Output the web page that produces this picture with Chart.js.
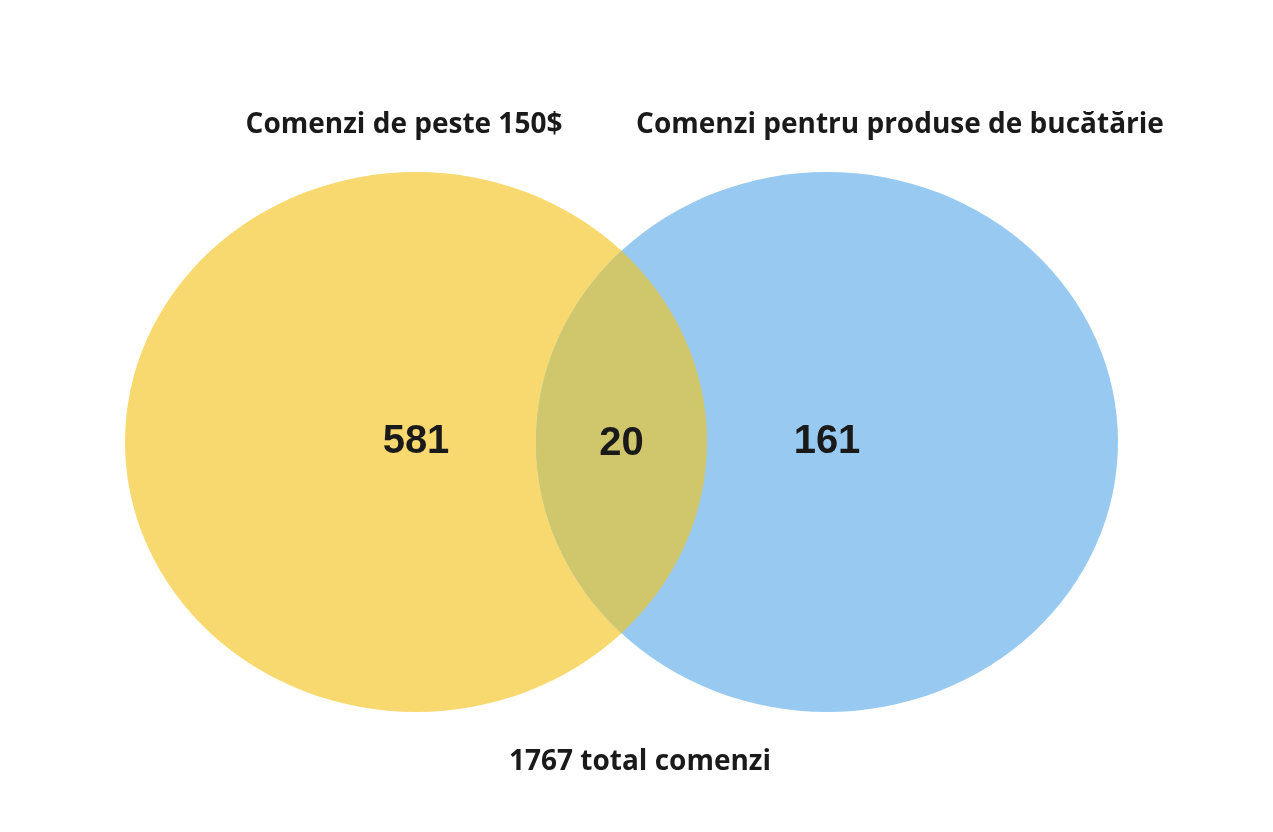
<!DOCTYPE html>
<html><head><meta charset="utf-8">
<script src="https://cdn.jsdelivr.net/npm/chart.js@4"></script>
<style>html,body{margin:0;padding:0;background:#fff;}</style>
</head><body>
<canvas id="c" width="1273" height="832"></canvas>
<script>
const categories = ["Comenzi de peste 150$", "Comenzi pentru produse de bucătărie"];
const onlyCounts = [581, 161];
const overlapCount = 20;
const totalLabel = "1767 total comenzi";

// layout (in scale units = pixels)
const setCenters = [{x:416,y:442},{x:827,y:442}];
const radii = {rx:291, ry:270};
const colors = ["#F7D96F", "#98CAF1"];
const overlapColor = "#D0C76C";

const venn = {
  id:'venn',
  afterDatasetsDraw(chart){
    const ctx = chart.ctx, xs = chart.scales.x, ys = chart.scales.y;
    const rx = Math.abs(xs.getPixelForValue(radii.rx) - xs.getPixelForValue(0));
    const ry = Math.abs(ys.getPixelForValue(0) - ys.getPixelForValue(radii.ry));
    const pts = setCenters.map(c=>({x:xs.getPixelForValue(c.x), y:ys.getPixelForValue(c.y)}));
    const ell = p=>{ctx.beginPath();ctx.ellipse(p.x,p.y,rx,ry,0,0,Math.PI*2);};
    ctx.save();
    pts.forEach((p,i)=>{ell(p);ctx.fillStyle=colors[i];ctx.fill();});
    ctx.save(); ell(pts[0]); ctx.clip(); ell(pts[1]); ctx.fillStyle=overlapColor; ctx.fill(); ctx.restore();
    ctx.fillStyle="#1a1a1a"; ctx.textAlign="center"; ctx.textBaseline="middle";
    ctx.font="bold 40px 'Liberation Sans', Arial";
    const ovL = pts[1].x - rx, ovR = pts[0].x + rx;
    ctx.fillText(String(onlyCounts[0]), pts[0].x, pts[0].y);
    ctx.fillText(String(overlapCount), (ovL+ovR)/2, pts[0].y+2);
    ctx.fillText(String(onlyCounts[1]), pts[1].x, pts[1].y);
    ctx.font="bold 28px 'Open Sans', sans-serif";
    ctx.fillText(categories[0], xs.getPixelForValue(404), ys.getPixelForValue(125));
    ctx.fillText(categories[1], xs.getPixelForValue(900), ys.getPixelForValue(125));
    ctx.fillText(totalLabel, xs.getPixelForValue(640), ys.getPixelForValue(762));
    ctx.restore();
  }
};

new Chart(document.getElementById('c'), {
  type:'scatter',
  data:{datasets:[{data:setCenters.map(c=>({x:c.x,y:c.y})), pointRadius:0}]},
  options:{
    responsive:false, animation:false,
    layout:{padding:0},
    plugins:{legend:{display:false},tooltip:{enabled:false}},
    scales:{
      x:{type:'linear',min:0,max:1273,display:false},
      y:{type:'linear',min:0,max:832,reverse:true,display:false}
    }
  },
  plugins:[venn]
});
</script>
</body></html>
